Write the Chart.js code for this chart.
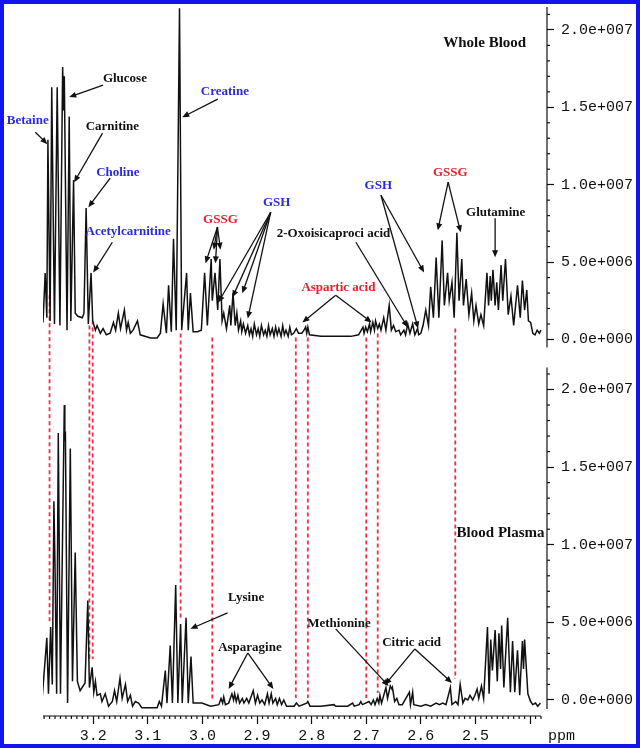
<!DOCTYPE html>
<html>
<head>
<meta charset="utf-8">
<script src="https://cdn.jsdelivr.net/npm/chart.js@4.4.1/dist/chart.umd.min.js"></script>
<style>
  html, body { margin: 0; padding: 0; background: #fff; }
  #wrap { position: relative; width: 640px; height: 748px; }
  #frame { position: absolute; left: 0; top: 0; width: 640px; height: 748px; box-sizing: border-box;
           border: 4px solid #1414ee; pointer-events: none; }
  canvas { display: block; }
</style>
</head>
<body>
<div id="wrap"><canvas id="nmr" width="640" height="748"></canvas><div id="frame"></div></div>
<script>
// ------------------------------------------------------------
//  1H NMR spectra 2.38 - 3.29 ppm : whole blood (top) vs blood plasma (bottom)
//  intensities in units of 1e6
// ------------------------------------------------------------

const topPpm = [3.292, 3.288, 3.285, 3.283, 3.279, 3.276, 3.271, 3.266, 3.261, 3.256, 3.2545, 3.253, 3.248, 3.244, 3.241,
  3.236, 3.233, 3.228, 3.220, 3.217, 3.213, 3.209, 3.204, 3.201, 3.196, 3.193, 3.187, 3.182, 3.176, 3.169,
  3.163, 3.159, 3.154, 3.150, 3.143, 3.139, 3.136, 3.132, 3.127, 3.119, 3.114, 3.095, 3.083, 3.077, 3.072,
  3.066, 3.062, 3.057, 3.053, 3.048, 3.042, 3.038, 3.029, 3.026, 3.022, 3.017, 3.009, 3.002, 2.996, 2.991,
  2.984, 2.982, 2.977, 2.972, 2.968, 2.964, 2.961, 2.956, 2.950, 2.948, 2.944, 2.940, 2.937, 2.934, 2.930,
  2.928, 2.925, 2.921, 2.917, 2.914, 2.911, 2.908, 2.905, 2.901, 2.898, 2.895, 2.892, 2.888, 2.885, 2.882,
  2.879, 2.876, 2.872, 2.869, 2.866, 2.863, 2.860, 2.856, 2.853, 2.850, 2.847, 2.843, 2.840, 2.837, 2.833,
  2.828, 2.824, 2.818, 2.814, 2.811, 2.809, 2.807, 2.804, 2.783, 2.756, 2.728, 2.714, 2.706, 2.704, 2.701,
  2.698, 2.694, 2.692, 2.688, 2.685, 2.683, 2.679, 2.676, 2.673, 2.668, 2.664, 2.658, 2.654, 2.650, 2.646,
  2.640, 2.637, 2.631, 2.628, 2.624, 2.620, 2.615, 2.611, 2.606, 2.604, 2.600, 2.596, 2.591, 2.586, 2.582,
  2.577, 2.572, 2.567, 2.561, 2.557, 2.551, 2.548, 2.543, 2.539, 2.534, 2.530, 2.525, 2.522, 2.517, 2.512,
  2.507, 2.503, 2.499, 2.494, 2.490, 2.485, 2.479, 2.476, 2.473, 2.471, 2.468, 2.464, 2.461, 2.458, 2.453,
  2.450, 2.445, 2.440, 2.435, 2.430, 2.423, 2.418, 2.414, 2.410, 2.406, 2.403, 2.399, 2.395, 2.391, 2.387,
  2.383, 2.380];
const topVal = [1.1, 4.3, 1.4, 12.9, 1.2, 16.3, 1.0, 16.3, 0.9, 17.6, 14.8, 17.0, 0.6, 14.4, 1.2,
  10.3, 1.7, 1.5, 1.4, 1.7, 8.5, 1.0, 4.3, 1.2, 0.6, 0.9, 0.4, 0.7, 0.3, 0.4,
  1.1, 0.6, 1.7, 0.7, 1.9, 0.6, 1.1, 0.4, 0.6, 1.2, 0.3, 0.1, 0.1, 0.4, 2.3,
  0.4, 3.5, 0.5, 6.5, 0.6, 21.4, 0.6, 4.3, 0.6, 3.0, 0.5, 0.5, 0.6, 4.3, 0.9,
  5.2, 2.5, 4.3, 1.9, 5.2, 1.2, 1.7, 0.7, 2.2, 0.9, 3.0, 0.9, 1.7, 0.6, 1.2,
  0.5, 1.0, 0.4, 0.9, 0.3, 0.7, 0.2, 1.0, 0.3, 0.7, 0.2, 0.9, 0.3, 0.6, 0.2,
  0.9, 0.3, 0.7, 0.2, 0.8, 0.3, 0.7, 0.2, 0.9, 0.3, 0.6, 0.2, 0.8, 0.3, 0.4,
  0.7, 0.4, 0.4, 0.6, 0.8, 0.4, 0.8, 0.3, 0.2, 0.2, 0.2, 0.3, 0.8, 0.4, 0.8,
  0.5, 1.0, 0.5, 1.1, 0.6, 1.2, 0.7, 1.0, 0.6, 1.4, 0.6, 2.2, 0.6, 0.9, 0.5,
  0.6, 0.3, 0.6, 0.3, 1.0, 0.4, 1.0, 0.3, 0.7, 0.3, 0.4, 0.9, 1.9, 0.9, 3.4,
  1.4, 5.3, 1.4, 6.4, 2.2, 4.3, 2.5, 3.7, 1.4, 6.9, 2.5, 5.2, 2.2, 3.9, 1.6,
  3.0, 1.2, 2.2, 1.0, 1.6, 0.9, 4.3, 2.2, 4.1, 2.5, 4.5, 2.2, 3.7, 1.9, 4.8,
  2.5, 5.2, 1.6, 2.8, 0.9, 3.5, 1.4, 3.8, 1.9, 3.2, 1.2, 1.1, 0.4, 0.3, 0.6,
  0.4, 0.6];

const botPpm = [3.294, 3.285, 3.282, 3.278, 3.275, 3.272, 3.270, 3.267, 3.264, 3.260, 3.253, 3.252, 3.251, 3.247, 3.242,
  3.238, 3.233, 3.229, 3.224, 3.215, 3.210, 3.207, 3.202, 3.199, 3.196, 3.193, 3.187, 3.184, 3.178, 3.172,
  3.165, 3.161, 3.157, 3.151, 3.147, 3.141, 3.137, 3.132, 3.128, 3.123, 3.117, 3.111, 3.095, 3.083, 3.079,
  3.075, 3.068, 3.065, 3.059, 3.055, 3.049, 3.045, 3.040, 3.037, 3.030, 3.026, 3.021, 3.017, 3.010, 3.001,
  2.985, 2.970, 2.966, 2.963, 2.961, 2.958, 2.952, 2.946, 2.943, 2.941, 2.938, 2.935, 2.932, 2.927, 2.924,
  2.919, 2.915, 2.907, 2.903, 2.899, 2.895, 2.891, 2.886, 2.881, 2.878, 2.874, 2.871, 2.866, 2.863, 2.859,
  2.855, 2.851, 2.846, 2.832, 2.828, 2.823, 2.809, 2.807, 2.803, 2.783, 2.759, 2.756, 2.734, 2.725, 2.722,
  2.713, 2.710, 2.707, 2.695, 2.691, 2.687, 2.684, 2.680, 2.677, 2.675, 2.672, 2.664, 2.661, 2.656, 2.653,
  2.652, 2.648, 2.644, 2.640, 2.634, 2.621, 2.619, 2.615, 2.613, 2.600, 2.591, 2.582, 2.572, 2.566, 2.560,
  2.554, 2.546, 2.543, 2.536, 2.532, 2.528, 2.523, 2.519, 2.514, 2.510, 2.505, 2.501, 2.497, 2.494, 2.489,
  2.485, 2.478, 2.475, 2.472, 2.469, 2.464, 2.460, 2.457, 2.454, 2.452, 2.448, 2.441, 2.436, 2.432, 2.428,
  2.423, 2.419, 2.414, 2.412, 2.410, 2.404, 2.399, 2.395, 2.390, 2.386, 2.381];
const botVal = [-0.1, 4.0, 0.4, 4.7, 1.0, 12.8, 8.6, 0.4, 17.2, 0.4, 19.0, 16.7, 17.3, -0.2, 16.2,
  1.2, 9.5, 1.2, 0.6, 1.1, 6.4, 0.8, 2.1, 0.5, 1.2, 0.3, 0.4, -0.1, 0.4, -0.4,
  -0.1, 0.6, -0.1, 1.4, 0.1, 1.0, -0.1, 0.3, -0.4, -0.1, -0.2, -0.5, -0.5, -0.5, -0.1,
  -0.4, 1.9, -0.2, 3.5, -0.2, 7.4, -0.2, 4.9, -0.2, 5.3, -0.2, 2.8, -0.2, -0.2, -0.2,
  -0.4, -0.3, 0.1, -0.2, 0.2, -0.3, -0.2, 0.4, 0.0, 0.4, -0.1, 0.3, -0.2, 0.1, -0.2,
  0.1, -0.2, 0.6, -0.2, 0.3, -0.2, 0.0, -0.3, 0.4, -0.2, 0.4, -0.2, 0.1, -0.3, 0.1,
  -0.3, 0.0, -0.4, -0.4, -0.2, -0.4, -0.2, -0.1, -0.4, -0.4, -0.3, -0.4, -0.4, -0.2, -0.4,
  -0.3, -0.1, -0.3, -0.1, -0.3, 0.0, -0.3, 0.1, -0.2, 0.3, -0.2, 0.8, 0.1, 0.9, 0.7,
  0.8, -0.1, 0.1, -0.3, -0.3, 0.5, -0.3, 0.5, -0.3, -0.4, -0.3, -0.4, -0.2, -0.3, -0.2,
  -0.3, 0.8, -0.3, -0.1, -0.3, 1.0, -0.2, 0.1, 0.0, 0.3, 0.0, 0.3, 0.7, 0.1, 0.9,
  0.1, 4.7, 0.4, 3.9, 1.9, 4.5, 1.2, 4.3, 2.0, 4.8, 0.8, 5.3, 0.5, 3.8, 0.5,
  3.2, 0.3, 3.8, 2.0, 3.9, 0.4, -0.1, -0.3, -0.2, -0.4, -0.2];

// red dashed guide lines: ppm, start on the top spectrum, end on the bottom spectrum
const guidePpm = [3.280, 3.207, 3.201, 3.040, 2.982, 2.829, 2.807, 2.700, 2.679, 2.537];
const guideTop = [2.85, 0.91, 1.23, 0.39, 0.13, 0.13, 0.13, 0.13, 0.39, 0.71];
const guideBot = [4.90, 2.64, 2.64, 5.29, 0.06, 0.13, 0.13, 0.13, 0.45, 1.35];

const xTickLabels = [3.2, 3.1, 3.0, 2.9, 2.8, 2.7, 2.6, 2.5];
const yTickLabels = [0, 5, 10, 15, 20];

const BLUE = "#2b2bd6";
const RED = "#e8202c";
const BLACK = "#111";

// labels with their arrows (ppm, intensity)
const notes = [
    { text: "Betaine", color: BLUE, axis: "yTop", at: [3.320, 14.17], arrows: [[3.306, 13.39, 3.284, 12.62]] },
    { text: "Glucose", color: BLACK, axis: "yTop", at: [3.142, 16.82], arrows: [[3.182, 16.43, 3.244, 15.66]] },
    { text: "Carnitine", color: BLACK, axis: "yTop", at: [3.165, 13.72], arrows: [[3.183, 13.33, 3.235, 10.16]] },
    { text: "Choline", color: BLUE, axis: "yTop", at: [3.155, 10.80], arrows: [[3.169, 10.42, 3.209, 8.54]] },
    { text: "Acetylcarnitine", color: BLUE, axis: "yTop", at: [3.136, 6.99], arrows: [[3.165, 6.28, 3.200, 4.33]] },
    { text: "Creatine", color: BLUE, axis: "yTop", at: [2.959, 15.98], arrows: [[2.972, 15.53, 3.037, 14.36]] },
    { text: "GSSG", color: RED, axis: "yTop", at: [2.967, 7.76],
      arrows: [[2.9725, 7.25, 2.9945, 4.92], [2.9725, 7.25, 2.9793, 5.80], [2.9725, 7.25, 2.9761, 4.92], [2.9725, 7.25, 2.967, 5.80]] },
    { text: "GSH", color: BLUE, axis: "yTop", at: [2.864, 8.86],
      arrows: [[2.875, 8.22, 2.971, 2.39], [2.875, 8.22, 2.945, 2.72], [2.875, 8.22, 2.927, 2.98], [2.875, 8.22, 2.917, 1.36]] },
    { text: "2-Oxoisicaproci acid", color: BLACK, axis: "yTop", at: [2.760, 6.86], arrows: [[2.719, 6.28, 2.624, 0.78]] },
    { text: "GSH", color: BLUE, axis: "yTop", at: [2.678, 9.96], arrows: [[2.673, 9.32, 2.605, 0.71], [2.673, 9.32, 2.594, 4.33]] },
    { text: "Aspartic acid", color: RED, axis: "yTop", at: [2.751, 3.36], arrows: [[2.756, 2.85, 2.817, 1.10], [2.756, 2.85, 2.690, 1.10]] },
    { text: "GSSG", color: RED, axis: "yTop", at: [2.546, 10.80], arrows: [[2.550, 10.16, 2.569, 7.05], [2.550, 10.16, 2.527, 6.92]] },
    { text: "Glutamine", color: BLACK, axis: "yTop", at: [2.463, 8.22], arrows: [[2.464, 7.83, 2.464, 5.31]] },
    { text: "Whole Blood", color: BLACK, axis: "yTop", at: [2.483, 19.15], big: true, arrows: [] },
    { text: "Lysine", color: BLACK, axis: "yBot", at: [2.920, 6.58], arrows: [[2.954, 5.61, 3.022, 4.58]] },
    { text: "Asparagine", color: BLACK, axis: "yBot", at: [2.913, 3.35], arrows: [[2.917, 3.03, 2.952, 0.71], [2.917, 3.03, 2.870, 0.71]] },
    { text: "Methionine", color: BLACK, axis: "yBot", at: [2.750, 4.90], arrows: [[2.756, 4.58, 2.659, 0.90]] },
    { text: "Citric acid", color: BLACK, axis: "yBot", at: [2.617, 3.68], arrows: [[2.611, 3.29, 2.666, 0.97], [2.611, 3.29, 2.543, 1.10]] },
    { text: "Blood Plasma", color: BLACK, axis: "yBot", at: [2.454, 10.77], big: true, arrows: [] }
];

// visible extent of each y axis line (intensity)
const axisSpan = { yTop: [-0.52, 21.48], yBot: [-0.58, 21.41] };
const xSpan = [2.38, 3.292];

function isMajorX(v) {
    return Math.abs(v * 10 - Math.round(v * 10)) < 1e-6;
}

function sci(v) {
    // 5 -> "5.0e+006"
    const n = Math.round(v) * 1e6;
    if (n === 0) return "0.0e+000";
    const e = Math.floor(Math.log10(n) + 1e-9);
    return (n / Math.pow(10, e)).toFixed(1) + "e+" + String(e).padStart(3, "0");
}

function yTickLabel(v) {
    const hit = yTickLabels.find(t => Math.abs(t - v) < 1e-6);
    return hit === undefined ? "" : sci(hit);
}

function drawArrow(ctx, x0, y0, x1, y1) {
    const a = Math.atan2(y1 - y0, x1 - x0);
    const L = 7, W = 3;
    ctx.beginPath();
    ctx.moveTo(x0, y0);
    ctx.lineTo(x1 - (L - 1) * Math.cos(a), y1 - (L - 1) * Math.sin(a));
    ctx.stroke();
    ctx.beginPath();
    ctx.moveTo(x1, y1);
    ctx.lineTo(x1 - L * Math.cos(a) + W * Math.sin(a), y1 - L * Math.sin(a) - W * Math.cos(a));
    ctx.lineTo(x1 - L * Math.cos(a) - W * Math.sin(a), y1 - L * Math.sin(a) + W * Math.cos(a));
    ctx.closePath();
    ctx.fill();
}

const decor = {
    id: "decor",
    beforeDatasetsDraw(chart) {
        const { ctx, scales } = chart;
        ctx.save();
        ctx.strokeStyle = "#f0304c";
        ctx.lineWidth = 1.8;
        ctx.setLineDash([4, 3]);
        guidePpm.forEach((p, i) => {
            const px = scales.x.getPixelForValue(p);
            ctx.beginPath();
            ctx.moveTo(px, scales.yTop.getPixelForValue(guideTop[i]));
            ctx.lineTo(px, scales.yBot.getPixelForValue(guideBot[i]));
            ctx.stroke();
        });
        ctx.restore();
    },
    afterDraw(chart) {
        const { ctx, scales } = chart;
        ctx.save();
        ctx.strokeStyle = BLACK;
        ctx.lineWidth = 1.2;

        // y axis lines + minor ticks
        ["yTop", "yBot"].forEach(id => {
            const s = scales[id];
            const [lo, hi] = axisSpan[id];
            ctx.beginPath();
            ctx.moveTo(s.left, s.getPixelForValue(lo));
            ctx.lineTo(s.left, s.getPixelForValue(hi));
            ctx.stroke();
            for (let v = 0; v <= hi; v++) {
                if (v % 5 === 0) continue;
                const py = s.getPixelForValue(v);
                ctx.beginPath();
                ctx.moveTo(s.left, py);
                ctx.lineTo(s.left + 3, py);
                ctx.stroke();
            }
        });

        // x axis line + minor ticks
        const sx = scales.x;
        ctx.beginPath();
        ctx.moveTo(sx.getPixelForValue(xSpan[1]), sx.top);
        ctx.lineTo(sx.getPixelForValue(xSpan[0]), sx.top);
        ctx.stroke();
        for (let k = Math.ceil(xSpan[0] * 100); k <= Math.floor(xSpan[1] * 100); k++) {
            if (k % 10 === 0) continue;
            const px = sx.getPixelForValue(k / 100);
            ctx.beginPath();
            ctx.moveTo(px, sx.top);
            ctx.lineTo(px, sx.top + 3);
            ctx.stroke();
        }

        // unit label
        ctx.fillStyle = BLACK;
        ctx.font = '15px "Liberation Mono"';
        ctx.textAlign = "left";
        ctx.textBaseline = "middle";
        ctx.fillText("ppm", chart.chartArea.right + 1, sx.top + 20);

        // annotations
        ctx.lineWidth = 1.3;
        notes.forEach(n => {
            const s = scales[n.axis];
            ctx.fillStyle = n.color;
            ctx.font = n.big ? 'bold 15px "Liberation Serif"' : 'bold 13px "Liberation Serif"';
            ctx.textAlign = "center";
            ctx.fillText(n.text, sx.getPixelForValue(n.at[0]), s.getPixelForValue(n.at[1]));
            ctx.fillStyle = BLACK;
            ctx.strokeStyle = BLACK;
            n.arrows.forEach(a => {
                drawArrow(ctx, sx.getPixelForValue(a[0]), s.getPixelForValue(a[1]),
                               sx.getPixelForValue(a[2]), s.getPixelForValue(a[3]));
            });
        });
        ctx.restore();
    }
};

function yAxis(weight, min, max) {
    return {
        type: "linear",
        position: "right",
        stack: "nmr",
        stackWeight: weight,
        min: min,
        max: max,
        border: { display: false },
        grid: {
            drawOnChartArea: false,
            tickLength: 7,
            tickWidth: 1.2,
            tickColor: c => (c.tick && yTickLabel(c.tick.value) !== "") ? BLACK : "rgba(0,0,0,0)"
        },
        ticks: {
            stepSize: 1,
            includeBounds: false,
            autoSkip: false,
            padding: 7,
            color: BLACK,
            font: { family: "Liberation Mono", size: 15 },
            callback: v => yTickLabel(v)
        },
        // no extra room for half-labels at the ends
        afterFit: s => { s.paddingTop = 0; s.paddingBottom = 0; }
    };
}

new Chart(document.getElementById("nmr").getContext("2d"), {
    type: "line",
    data: {
        datasets: [
            {
                label: "Whole Blood",
                data: topPpm.map((p, i) => ({ x: p, y: topVal[i] })),
                yAxisID: "yTop",
                borderColor: BLACK,
                borderWidth: 1.5,
                pointRadius: 0,
                tension: 0
            },
            {
                label: "Blood Plasma",
                data: botPpm.map((p, i) => ({ x: p, y: botVal[i] })),
                yAxisID: "yBot",
                borderColor: BLACK,
                borderWidth: 1.5,
                pointRadius: 0,
                tension: 0
            }
        ]
    },
    options: {
        responsive: false,
        animation: false,
        events: [],
        layout: { padding: { top: 7, left: 43, right: 0, bottom: 0 } },
        plugins: { legend: { display: false }, tooltip: { enabled: false } },
        scales: {
            x: {
                type: "linear",
                reverse: true,
                min: 2.369,
                max: 3.292,
                border: { display: false },
                grid: {
                    drawOnChartArea: false,
                    tickLength: 8,
                    tickWidth: 1.2,
                    tickColor: c => (c.tick && isMajorX(c.tick.value)) ? BLACK : "rgba(0,0,0,0)"
                },
                ticks: {
                    stepSize: 0.01,
                    includeBounds: false,
                    autoSkip: false,
                    maxRotation: 0,
                    padding: 3,
                    color: BLACK,
                    font: { family: "Liberation Mono", size: 15 },
                    callback: v => {
                        const hit = xTickLabels.find(t => Math.abs(t - v) < 1e-6);
                        return hit === undefined ? "" : hit.toFixed(1);
                    }
                }
            },
            yTop: yAxis(350, -1.165, 21.48),
            yBot: yAxis(358, -1.032, 22.06)
        }
    },
    plugins: [decor]
});
</script>
</body>
</html>
